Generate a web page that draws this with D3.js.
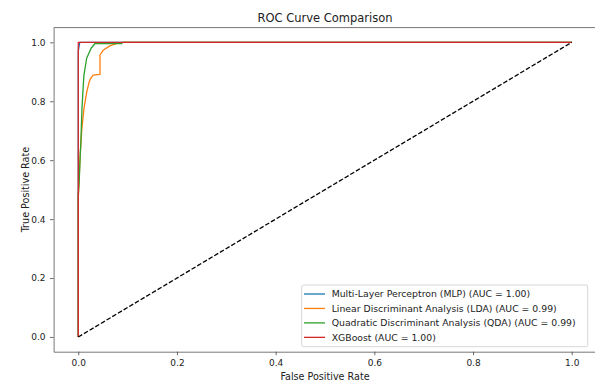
<!DOCTYPE html>
<html>
<head>
<meta charset="utf-8">
<script src="https://cdn.jsdelivr.net/npm/d3@7"></script>
<style>
  body { margin: 0; background: #fff; }
  text { font-family: "DejaVu Sans", sans-serif; }
</style>
</head>
<body>
<div class="canvas"></div>
<script>
// ROC points (fpr, tpr)
const mlpFpr = [0, 0, 0.003, 1];
const mlpTpr = [0, 0.97, 1, 1];

const ldaFpr = [0, 0, 0.002, 0.004, 0.005, 0.007, 0.0115, 0.017, 0.022, 0.025, 0.03, 0.044, 0.044, 0.051, 0.064, 0.08, 0.091, 1];
const ldaTpr = [0, 0.47, 0.55, 0.62, 0.65, 0.70, 0.775, 0.83, 0.865, 0.877, 0.889, 0.891, 0.957, 0.974, 0.988, 0.997, 1, 1];

const qdaFpr = [0, 0, 0.002, 0.004, 0.005, 0.0075, 0.010, 0.0115, 0.017, 0.026, 0.034, 0.088, 0.09, 1];
const qdaTpr = [0, 0.48, 0.53, 0.62, 0.65, 0.775, 0.85, 0.889, 0.946, 0.98, 0.996, 0.996, 1, 1];

const xgbFpr = [0, 0, 1];
const xgbTpr = [0, 1, 1];

const modelNames = [
  'Multi-Layer Perceptron (MLP) (AUC = 1.00)',
  'Linear Discriminant Analysis (LDA) (AUC = 0.99)',
  'Quadratic Discriminant Analysis (QDA) (AUC = 0.99)',
  'XGBoost (AUC = 1.00)'
];
const modelColors = ['#1f77b4', '#ff7f0e', '#2ca02c', '#d62728'];
const tickValues = [0, 0.2, 0.4, 0.6, 0.8, 1.0];

const curves = [
  [mlpFpr, mlpTpr],
  [ldaFpr, ldaTpr],
  [qdaFpr, qdaTpr],
  [xgbFpr, xgbTpr]
].map(([f, t]) => f.map((v, i) => [v, t[i]]));

const width = 595, height = 381;

const svg = d3.select('.canvas')
  .append('svg')
  .attr('width', width)
  .attr('height', height);

svg.append('rect').attr('width', width).attr('height', height).attr('fill', '#fff');

const x = d3.scaleLinear().domain([-0.05, 1.05]).range([53.6, 596.4]);
const y = d3.scaleLinear().domain([-0.05, 1.05]).range([351.7, 27.6]);

const line = d3.line()
  .x(d => x(d[0]))
  .y(d => y(d[1]));

const plot = svg.append('g');

curves.forEach((pts, i) => {
  plot.append('path')
    .datum(pts)
    .attr('d', line)
    .attr('fill', 'none')
    .attr('stroke', modelColors[i])
    .attr('stroke-width', 1.3)
    .attr('stroke-linejoin', 'round');
});

// chance line
plot.append('path')
  .datum([[0, 0], [1, 1]])
  .attr('d', line)
  .attr('fill', 'none')
  .attr('stroke', '#000')
  .attr('stroke-width', 1.3)
  .attr('stroke-dasharray', '4.6,2');

// axes
const xAxis = svg.append('g')
  .attr('transform', `translate(0,${y.range()[0]})`)
  .call(d3.axisBottom(x).tickValues(tickValues).tickFormat(d3.format('.1f')).tickSize(3.5).tickPadding(4).tickSizeOuter(0));

const yAxis = svg.append('g')
  .attr('transform', `translate(${x.range()[0]},0)`)
  .call(d3.axisLeft(y).tickValues(tickValues).tickFormat(d3.format('.1f')).tickSize(3.5).tickPadding(4.5).tickSizeOuter(0));

[xAxis, yAxis].forEach(a => {
  a.selectAll('text').attr('font-size', 9).attr('fill', '#222').attr('font-family', 'DejaVu Sans, sans-serif');
  a.selectAll('line').attr('stroke', '#444').attr('stroke-width', 0.8);
  a.select('.domain').attr('stroke', '#777').attr('stroke-width', 1);
});

// top spine (right spine falls off the canvas)
svg.append('line')
  .attr('x1', x.range()[0]).attr('x2', x.range()[1])
  .attr('y1', y.range()[1]).attr('y2', y.range()[1])
  .attr('stroke', '#777').attr('stroke-width', 1);

// title + labels
svg.append('text')
  .attr('x', 325).attr('y', 21.5)
  .attr('text-anchor', 'middle')
  .attr('font-size', 11.5)
  .attr('fill', '#222')
  .text('ROC Curve Comparison');

svg.append('text')
  .attr('x', 325).attr('y', 380.3)
  .attr('text-anchor', 'middle')
  .attr('font-size', 9.6)
  .attr('fill', '#222')
  .text('False Positive Rate');

svg.append('text')
  .attr('transform', 'translate(28.5,189.6) rotate(-90)')
  .attr('text-anchor', 'middle')
  .attr('font-size', 9.6)
  .attr('fill', '#222')
  .text('True Positive Rate');

// legend
const legend = svg.append('g');
legend.append('rect')
  .attr('x', 301.7).attr('y', 285)
  .attr('width', 286).attr('height', 61.7)
  .attr('rx', 2)
  .attr('fill', '#fff').attr('fill-opacity', 0.8)
  .attr('stroke', '#ccc').attr('stroke-width', 0.8);

modelNames.forEach((name, i) => {
  const ly = 294 + i * 14.45;
  legend.append('line')
    .attr('x1', 304).attr('x2', 325)
    .attr('y1', ly).attr('y2', ly)
    .attr('stroke', modelColors[i]).attr('stroke-width', 1.3);
  legend.append('text')
    .attr('x', 331.7).attr('y', ly)
    .attr('dy', '0.35em')
    .attr('font-size', 9.3)
    .attr('fill', '#222')
    .text(name);
});
</script>
</body>
</html>
